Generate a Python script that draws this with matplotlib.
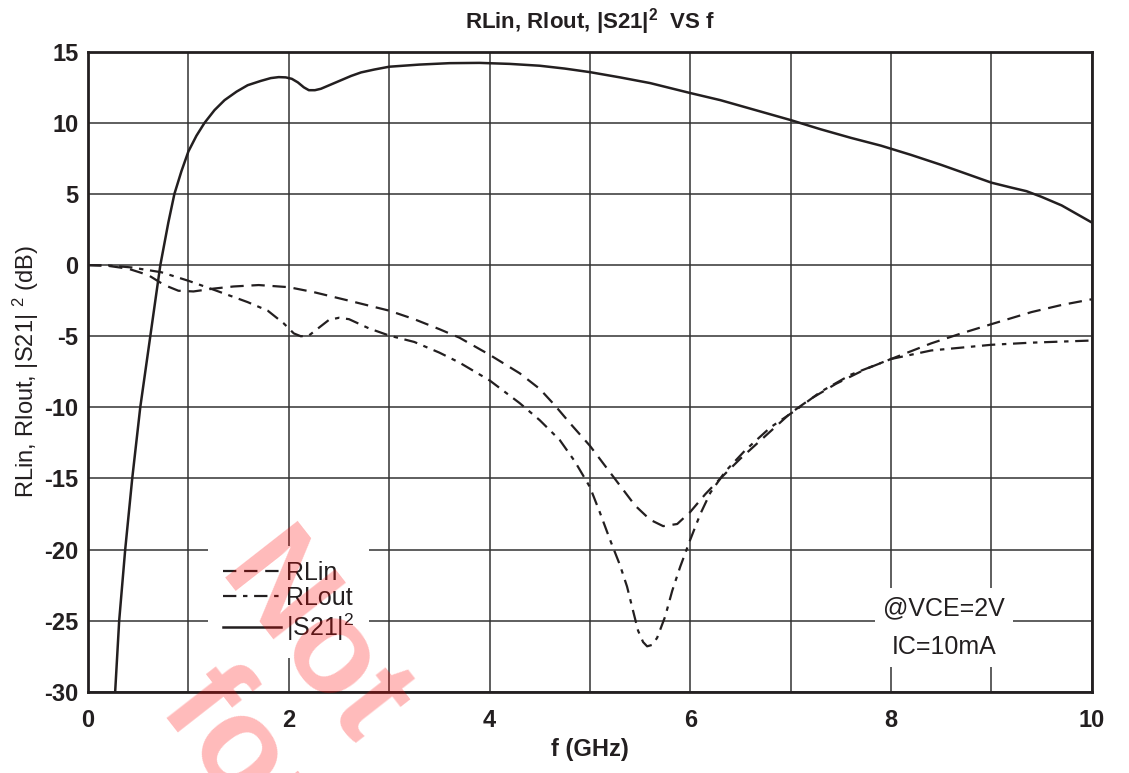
import numpy as np
import matplotlib
matplotlib.use("Agg")
import matplotlib.pyplot as plt

plt.rcParams['font.family'] = ['Liberation Sans', 'DejaVu Sans']
plt.rcParams['mathtext.fontset'] = 'custom'
plt.rcParams['mathtext.rm'] = 'Liberation Sans'
plt.rcParams['mathtext.bf'] = 'Liberation Sans:bold'
plt.rcParams['mathtext.default'] = 'regular'
plt.rcParams['axes.unicode_minus'] = False

INK = '#231f20'

# |S21|^2 (solid)
s21_f = [0.27, 0.31, 0.37, 0.44, 0.52, 0.62, 0.72, 0.80, 0.86, 0.93, 1.0, 1.08, 1.16,
         1.26, 1.36, 1.48, 1.59, 1.72, 1.82, 1.90, 1.97, 2.03, 2.09, 2.15, 2.20, 2.26,
         2.32, 2.42, 2.52, 2.62, 2.72, 2.85, 3.0, 3.3, 3.6, 3.9, 4.2, 4.5, 4.75, 5.0,
         5.3, 5.6, 6.0, 6.3, 6.6, 7.0, 7.3, 7.6, 7.9, 8.2, 8.5, 8.8, 9.0, 9.2, 9.35,
         9.5, 9.7, 9.85, 10.0]
s21_db = [-30, -25, -20, -15, -10, -5, 0, 3.0, 5.0, 6.6, 8.0, 9.1, 10.0,
          10.9, 11.6, 12.2, 12.65, 12.95, 13.15, 13.22, 13.2, 13.1, 12.85, 12.5, 12.3, 12.3,
          12.4, 12.7, 13.0, 13.3, 13.55, 13.75, 13.95, 14.1, 14.2, 14.22, 14.15, 14.02, 13.82, 13.57,
          13.2, 12.8, 12.1, 11.6, 11.0, 10.2, 9.55, 8.95, 8.4, 7.75, 7.05, 6.3, 5.8, 5.45, 5.2,
          4.8, 4.2, 3.6, 3.0]

# RLin (dashed)
rlin_f = [0, 0.2, 0.4, 0.6, 0.76, 0.9, 1.05, 1.25, 1.45, 1.7, 2.0, 2.25, 2.6, 3.0, 3.25,
          3.5, 3.7, 4.0, 4.3, 4.5, 4.65, 4.8, 5.0, 5.15, 5.3, 5.45, 5.6, 5.73, 5.87, 6.0,
          6.15, 6.3, 6.5, 6.75, 7.0, 7.2, 7.45, 7.75, 8.0, 8.4, 8.7, 9.0, 9.4, 9.7, 10.0]
rlin_db = [0, -0.05, -0.25, -0.7, -1.4, -1.8, -1.85, -1.65, -1.5, -1.4, -1.55, -1.9, -2.5, -3.2, -3.8,
           -4.5, -5.1, -6.3, -7.6, -8.7, -9.85, -11.1, -12.7, -14.1, -15.5, -16.9, -17.9, -18.35, -18.2, -17.35,
           -16.1, -15.0, -13.6, -12.0, -10.4, -9.4, -8.35, -7.3, -6.6, -5.5, -4.8, -4.15, -3.3, -2.8, -2.4]

# RLout (dash-dot)
rlout_f = [0, 0.2, 0.43, 0.73, 1.0, 1.26, 1.59, 1.79, 1.95, 2.05, 2.12, 2.2, 2.3, 2.4, 2.5,
           2.6, 2.8, 3.0, 3.25, 3.5, 3.7, 4.0, 4.3, 4.5, 4.7, 4.85, 5.0, 5.1, 5.2, 5.3,
           5.37, 5.43, 5.48, 5.53, 5.57, 5.62, 5.67, 5.75, 5.82, 5.9, 6.0, 6.1, 6.2, 6.35,
           6.55, 6.8, 7.05, 7.3, 7.6, 8.0, 8.4, 9.0, 9.4, 10.0]
rlout_db = [0, -0.02, -0.16, -0.5, -1.1, -1.75, -2.6, -3.2, -4.1, -4.8, -5.0, -4.95, -4.4, -3.85, -3.7,
            -3.8, -4.45, -4.95, -5.4, -6.15, -6.85, -8.1, -9.7, -10.9, -12.3, -13.8, -15.6, -17.4, -19.3, -21.1,
            -22.6, -24.3, -25.7, -26.5, -26.8, -26.7, -26.2, -24.7, -22.9, -21.2, -19.3, -17.5, -16.0, -14.5,
            -13.0, -11.4, -10.2, -8.9, -7.7, -6.6, -6.0, -5.6, -5.45, -5.3]

x_ticks = [0, 2, 4, 6, 8, 10]
y_ticks = [15, 10, 5, 0, -5, -10, -15, -20, -25, -30]

fig = plt.figure(figsize=(11.29, 7.73), dpi=100)
ax = fig.add_axes([0.078, 0.105, 0.889, 0.828])

ax.plot(rlin_f, rlin_db, color=INK, lw=1.6, dashes=[6, 3.5], label='RLin')
ax.plot(rlout_f, rlout_db, color=INK, lw=1.6, dashes=[6, 3, 2, 3], label='RLout')
ax.plot(s21_f, s21_db, color=INK, lw=1.8, label='|S21|$^2$')

ax.set_xlim(0, 10)
ax.set_ylim(-30, 15)
ax.set_xticks(x_ticks)
ax.set_xticks(np.arange(1, 10, 2), minor=True)
ax.set_yticks(y_ticks)
ax.grid(True, which='both', color='#333333', lw=1.1)
ax.set_axisbelow(True)
ax.tick_params(which='both', length=0)
ax.tick_params(axis='x', pad=12, labelsize=17, colors=INK)
ax.tick_params(axis='y', pad=7, labelsize=17, colors=INK)
for lab in ax.get_xticklabels() + ax.get_yticklabels():
    lab.set_fontweight('bold')
for s in ax.spines.values():
    s.set_linewidth(2.0)
    s.set_color(INK)

ax.set_title('RLin, Rlout, |S21|$^2$  VS f', fontsize=16, fontweight='bold', color=INK, pad=17)
ax.set_xlabel('f (GHz)', fontsize=17, fontweight='bold', color=INK, labelpad=5)
ax.set_ylabel('RLin, Rlout, |S21| $^2$ (dB)', fontsize=17, color=INK, labelpad=2)

leg = ax.legend(loc='upper left', bbox_to_anchor=(0.1195, 0.228), fontsize=18,
                handlelength=2.3, handletextpad=0.2, labelspacing=0.05,
                borderpad=0.6, borderaxespad=0, frameon=True, fancybox=False,
                framealpha=1, edgecolor='none', facecolor='white')
for t in leg.get_texts():
    t.set_color(INK)

ax.text(0.853, 0.1, '@VCE=2V\nIC=10mA', transform=ax.transAxes, ha='center', va='center',
        fontsize=18, color=INK, linespacing=1.75,
        bbox=dict(facecolor='white', edgecolor='none', pad=6))

# watermark
fig.text(0.19, 0.255, 'Not', rotation=-52, rotation_mode='anchor', ha='left', va='baseline',
         fontsize=96, fontweight='bold', color='red', alpha=0.27, zorder=10)
fig.text(0.14, 0.085, 'for new design', rotation=-52, rotation_mode='anchor', ha='left',
         va='baseline', fontsize=96, fontweight='bold', color='red', alpha=0.27, zorder=10)

fig.savefig('out.png', dpi=100)
